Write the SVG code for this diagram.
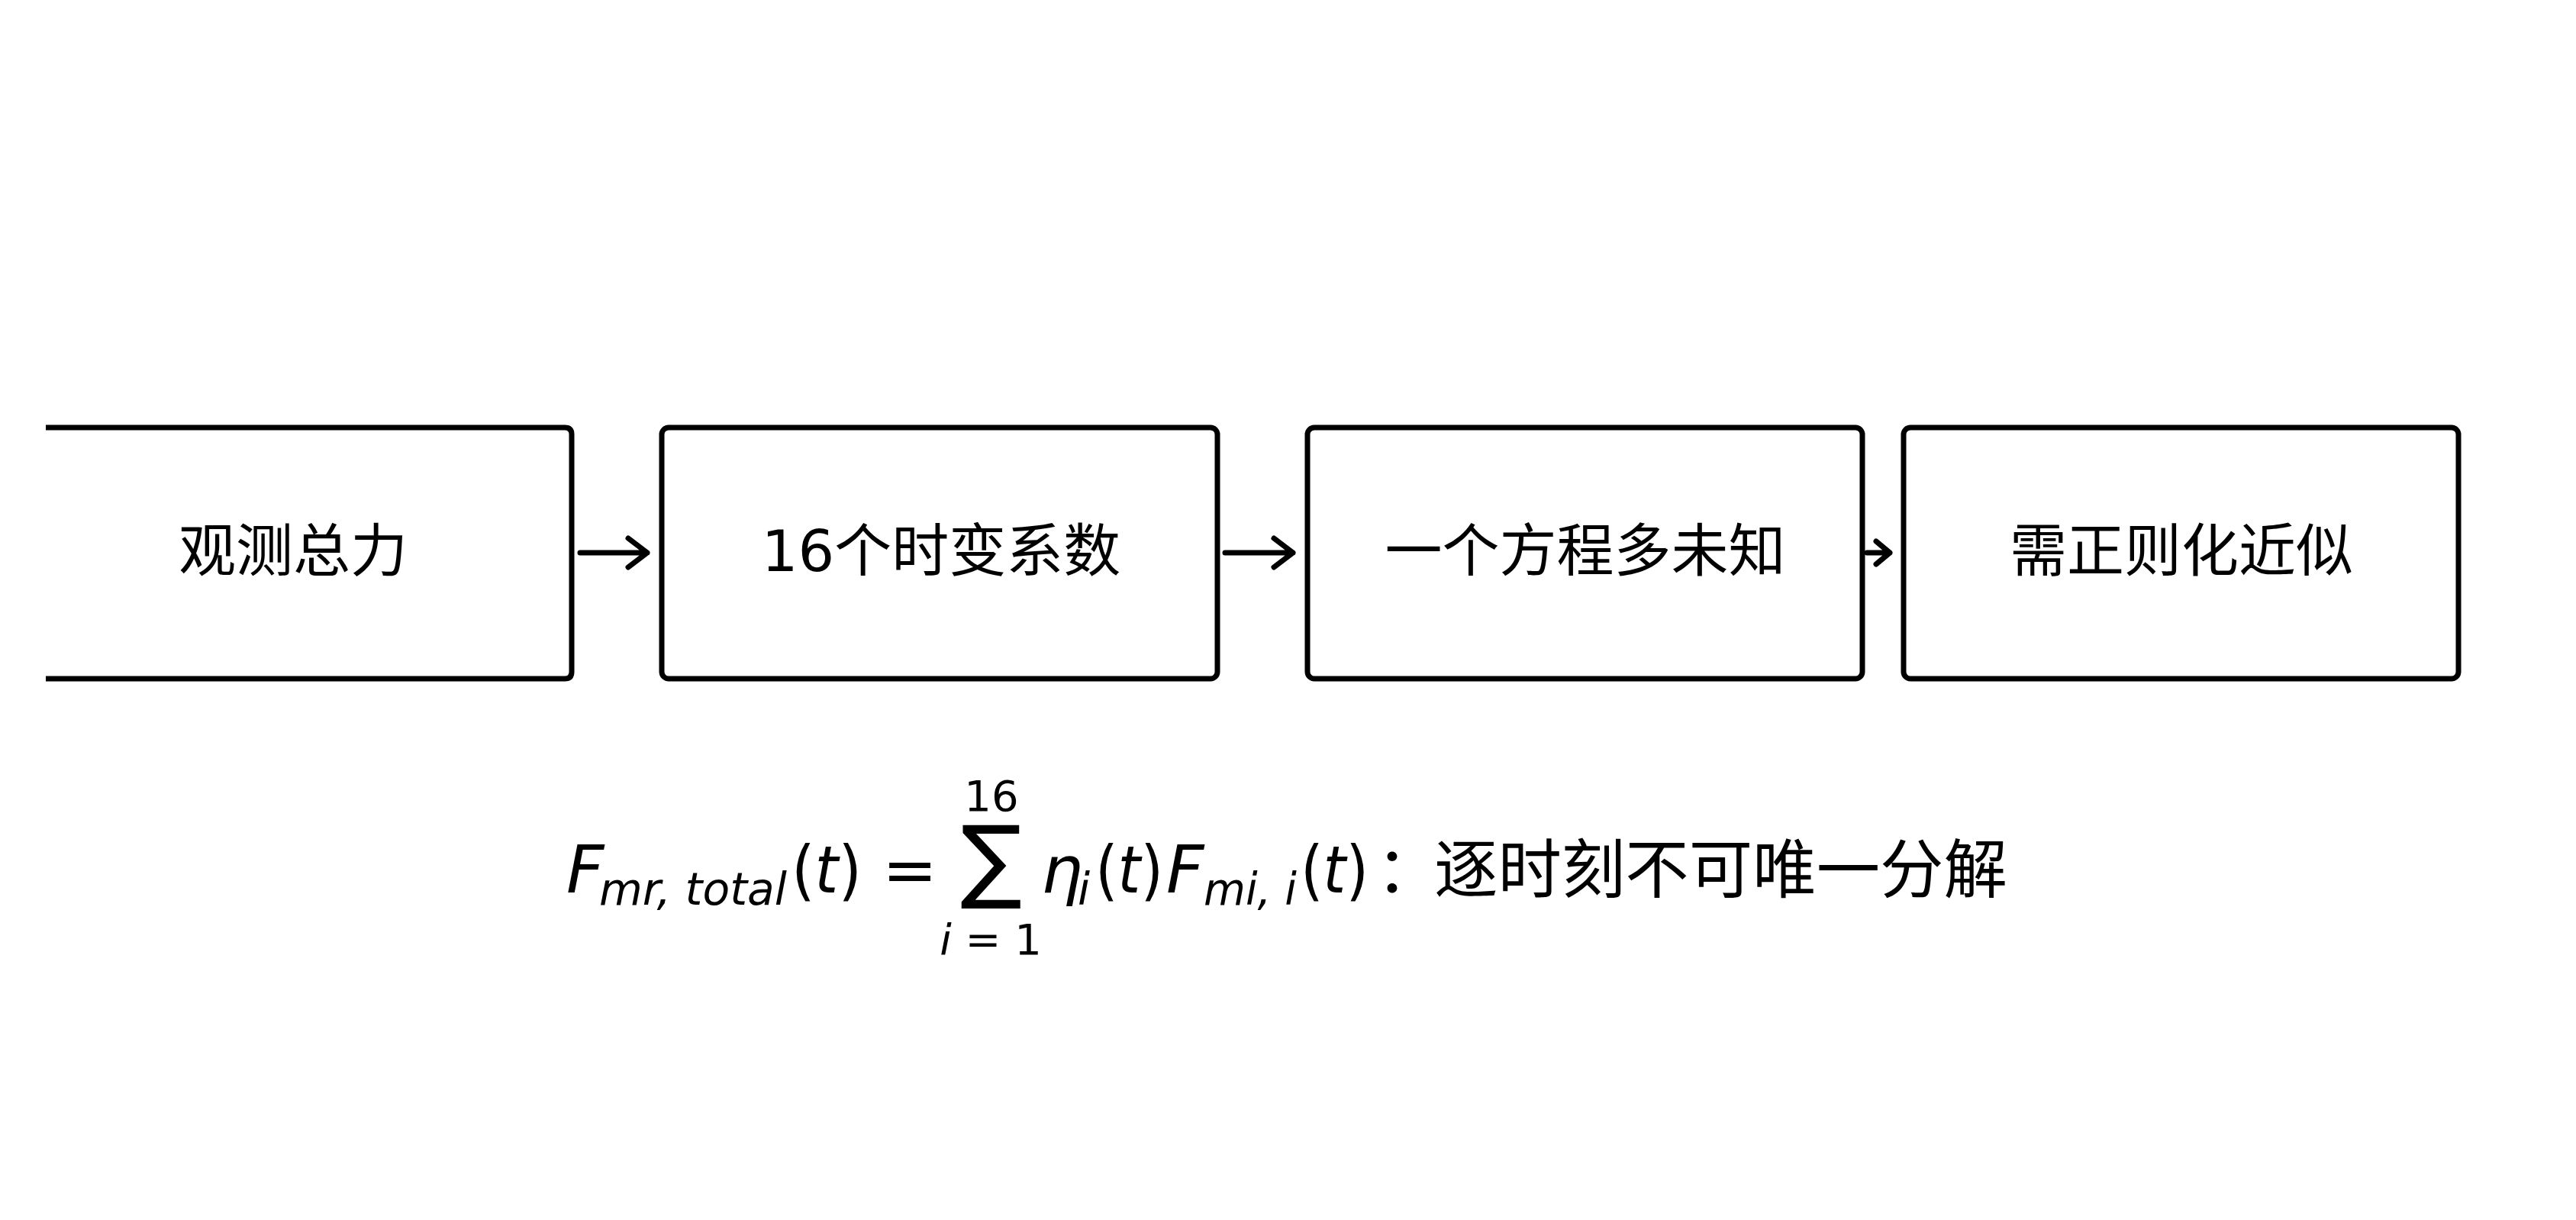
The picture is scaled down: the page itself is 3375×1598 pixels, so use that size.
<svg xmlns="http://www.w3.org/2000/svg" width="3375" height="1598" viewBox="0 0 3375 1598">
<style>
.box{fill:#fff;stroke:#000;stroke-width:7;stroke-linejoin:round}
.lbl{font-family:"DejaVu Sans","Noto Sans CJK SC",sans-serif;font-size:75px;text-anchor:middle;fill:#000}
.m{font-family:"DejaVu Sans","Noto Sans CJK SC",sans-serif;fill:#000}
.it{font-style:italic}
.con{stroke:#000;stroke-width:7;fill:none;stroke-linecap:round;stroke-linejoin:round}
</style>
<rect width="3375" height="1598" fill="#fff"/>
<g id="n1"><path class="box" d="M60 560 H740 Q749 560 749 569 V880 Q749 889 740 889 H60"/><text class="lbl" x="384" y="748">观测总力</text></g>
<g id="n2"><rect class="box" x="867" y="560" width="728" height="329" rx="9"/><text class="lbl" x="1233" y="748">16个时变系数</text></g>
<g id="n3"><rect class="box" x="1713" y="560" width="727" height="329" rx="9"/><text class="lbl" x="2077" y="748">一个方程多未知</text></g>
<g id="n4"><rect class="box" x="2494" y="560" width="727" height="329" rx="9"/><text class="lbl" x="2858" y="748">需正则化近似</text></g>
<g id="connectors">
<path class="con" d="M760 724 H848 M823 705 L848 724 L823 743"/>
<path class="con" d="M1605 724 H1694 M1669 705 L1694 724 L1669 743"/>
<path class="con" d="M2446 724 H2476 M2458 709 L2476 724 L2458 739"/>
</g>
<g id="formula">
<text class="m it" x="742" y="1169" font-size="86">F</text>
<text class="m it" x="785" y="1185" font-size="58" textLength="246" lengthAdjust="spacingAndGlyphs">mr, total</text>
<text class="m" x="1037" y="1169" font-size="86" textLength="92" lengthAdjust="spacingAndGlyphs">(<tspan class="it">t</tspan>)</text>
<text class="m" x="1156" y="1169" font-size="86">=</text>
<text class="m" x="1299" y="1062" font-size="56" text-anchor="middle">16</text>
<text class="m" x="1299" y="1167" font-size="120" text-anchor="middle">∑</text>
<text class="m" x="1298" y="1250" font-size="56" text-anchor="middle"><tspan class="it">i</tspan> = 1</text>
<text class="m it" x="1364" y="1169" font-size="86">η</text>
<text class="m it" x="1412" y="1185" font-size="58">i</text>
<text class="m" x="1435" y="1169" font-size="86" textLength="89" lengthAdjust="spacingAndGlyphs">(<tspan class="it">t</tspan>)</text>
<text class="m it" x="1528" y="1169" font-size="86">F</text>
<text class="m it" x="1577" y="1185" font-size="58" textLength="122" lengthAdjust="spacingAndGlyphs">mi, i</text>
<text class="m" x="1704" y="1169" font-size="86" textLength="89" lengthAdjust="spacingAndGlyphs">(<tspan class="it">t</tspan>)</text>
<text class="m" x="1803" y="1169" font-size="84">：</text>
<text class="m" x="1879" y="1169" font-size="84" textLength="751" lengthAdjust="spacingAndGlyphs">逐时刻不可唯一分解</text>
</g>
</svg>
